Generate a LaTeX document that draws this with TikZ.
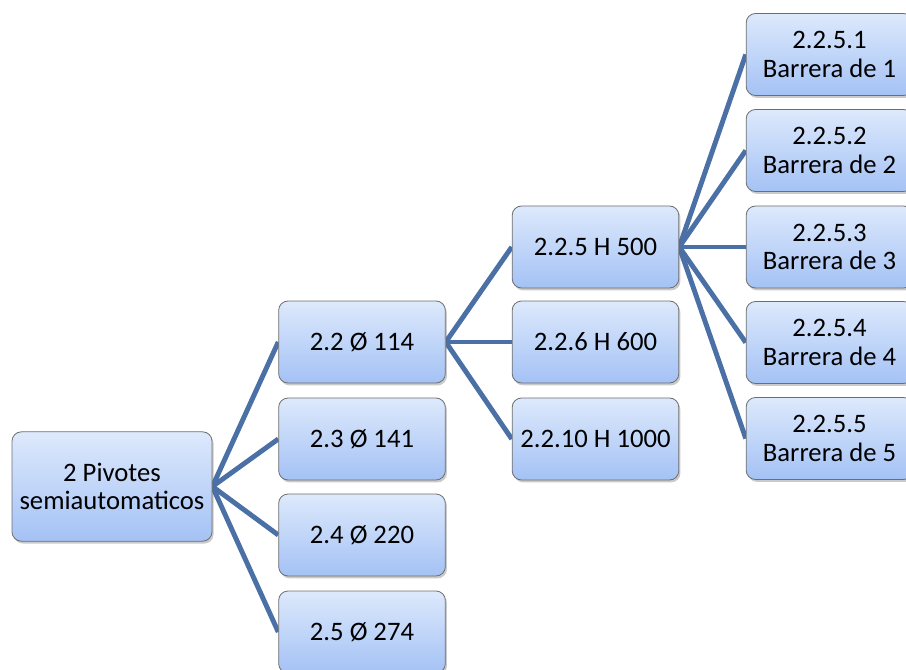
\documentclass[tikz,border=0pt]{standalone}
\usepackage{fontspec}
\setmainfont{Carlito}
\usetikzlibrary{shadows,backgrounds}
\definecolor{boxtop}{HTML}{DDE9FC}
\definecolor{boxbot}{HTML}{A4C2F5}
\definecolor{boxline}{HTML}{6E6E6E}
\definecolor{linec}{HTML}{4A70A6}
\tikzset{
  box/.style={draw=boxline, line width=0.6pt, rounded corners=7pt,
    top color=boxtop, bottom color=boxbot, align=center,
    minimum width=125pt, minimum height=61.5pt, inner sep=0pt,
    font=\fontsize{20}{21.5}\selectfont,
    drop shadow={shadow xshift=1.2pt, shadow yshift=-1.8pt, opacity=0.35, fill=black!60}},
  rootbox/.style={box, minimum width=150pt, minimum height=82pt},
  conn/.style={draw=linec, line width=3.7pt}
}
\begin{document}
\begin{tikzpicture}[x=0.75pt, y=-0.75pt]
\clip (0,0) rectangle (906,670);
\useasboundingbox (0,0) rectangle (906,670);
\node[rootbox] (root) at (112,486.5) {2 Pivotes\\semiautomaticos};
\node[box] (a22) at (362,342) {2.2 Ø 114};
\node[box] (a23) at (362,439) {2.3 Ø 141};
\node[box] (a24) at (362,535) {2.4 Ø 220};
\node[box] (a25) at (362,632) {2.5 Ø 274};
\node[box] (b225) at (595.5,247) {2.2.5 H 500};
\node[box] (b226) at (595.5,342) {2.2.6 H 600};
\node[box] (b2210) at (595.5,439) {2.2.10 H 1000};
\node[box] (c1) at (829.5,54.5) {2.2.5.1\\Barrera de 1};
\node[box] (c2) at (829.5,150.5) {2.2.5.2\\Barrera de 2};
\node[box] (c3) at (829.5,247) {2.2.5.3\\Barrera de 3};
\node[box] (c4) at (829.5,342.5) {2.2.5.4\\Barrera de 4};
\node[box] (c5) at (829.5,438.5) {2.2.5.5\\Barrera de 5};
\begin{pgfonlayer}{background}
\foreach \t in {a22,a23,a24,a25} \draw[conn] (root.east) -- (\t.west);
\foreach \t in {b225,b226,b2210} \draw[conn] (a22.east) -- (\t.west);
\foreach \t in {c1,c2,c3,c4,c5} \draw[conn] (b225.east) -- (\t.west);
\end{pgfonlayer}
\end{tikzpicture}
\end{document}
